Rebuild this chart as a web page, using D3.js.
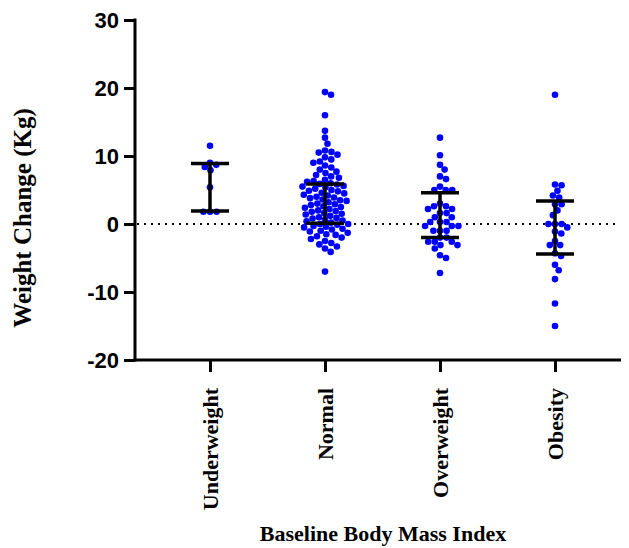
<!DOCTYPE html>
<html>
<head>
<meta charset="utf-8">
<script src="https://cdn.jsdelivr.net/npm/d3@7"></script>
<style>
  body { margin: 0; background: #fff; }
  svg { display: block; }
</style>
</head>
<body>
<svg id="chart" width="629" height="548"></svg>
<script>
// categories + y ticks
var groups = ['Underweight', 'Normal', 'Overweight', 'Obesity'];
var yTicks = [-20, -10, 0, 10, 20, 30];

// weight change (kg)
var underweight = [11.5, 9.0, 8.7, 8.4, 7.9, 5.4, 1.8, 1.8, 1.8];
var normal = [19.4, 19.0, 16.0, 13.7, 12.7, 11.8, 10.8, 10.6, 10.5, 10.2,
  9.8, 9.5, 9.2, 9.0, 8.6, 8.3, 8.0, 7.7, 7.5, 7.2, 7.0, 6.8,
  6.5, 6.3, 6.2, 6.0, 5.9, 5.8, 5.6, 5.5, 5.4, 5.2, 5.0, 4.9, 4.8, 4.6,
  4.5, 4.3, 4.2, 4.0, 3.9, 3.8, 3.6, 3.5, 3.4, 3.2, 3.0, 2.9, 2.8, 2.6,
  2.5, 2.4, 2.2, 2.0, 1.9, 1.8, 1.6, 1.5, 1.4, 1.2, 1.0, 0.9, 0.8, 0.6,
  0.5, 0.4, 0.2, 0.0, 0.0, -0.1, -0.3, -0.4, -0.5, -0.7, -0.8, -1.0,
  -1.1, -1.3, -1.5, -1.6, -1.8, -2.0, -2.2, -2.5, -2.8, -3.0, -3.3,
  -3.6, -4.1, -7.0];
var overweight = [12.7, 10.1, 8.7, 8.0, 7.0, 6.6, 5.5, 5.0, 5.0, 5.0, 3.0,
  2.6, 2.6, 2.2, 2.2, 1.6, 1.6, 1.0, 1.0, 0.3, 0.3, 0.3, -0.3, -0.3, -0.3,
  -1.0, -1.0, -1.0, -2.0, -2.0, -2.6, -2.6, -2.6, -3.1, -3.1, -3.6, -4.6,
  -5.0, -7.2];
var obesity = [19.0, 5.8, 5.7, 4.9, 4.2, 3.9, 2.9, 2.9, 2.0, 1.3, 0.0, 0.0,
  0.0, -0.5, -1.1, -1.4, -2.5, -3.1, -3.1, -4.3, -4.7, -6.0, -6.8, -8.1,
  -11.7, -15.0];

// error bars (upper / lower)
var barHigh = [8.9, 5.9, 4.6, 3.4];
var barLow = [1.9, 0.1, -2.0, -4.4];

var series = [underweight, normal, overweight, obesity];

var svg = d3.select('#chart');

var x = d3.scalePoint().domain(groups).range([210, 555]);
var y = d3.scaleLinear().domain([-20, 30]).range([360, 20]);

var R = 3.3;

// simple beeswarm: put each dot as close to the centre as it can go
function swarm(vals){
	var placed = [];
	var sorted = vals.slice().sort(function(a, b){ return b - a; });
	sorted.forEach(function(v){
		var py = y(v);
		var cands = [0];
		placed.forEach(function(p){
			var dy = Math.abs(p.y - py);
			if (dy < 2*R){
				var dx = Math.sqrt(4*R*R - dy*dy);
				cands.push(p.x + dx, p.x - dx);
			}
		});
		cands.sort(function(a, b){ return Math.abs(a) - Math.abs(b); });
		for (var i=0; i<cands.length; i++){
			var c = cands[i];
			var ok = placed.every(function(p){
				var ddx = p.x - c, ddy = p.y - py;
				return ddx*ddx + ddy*ddy >= 4*R*R - 0.01;
			});
			if (ok){ placed.push({x: c, y: py}); break; }
		}
	});
	return placed;
}

// zero line
svg.append('line')
	.attr('x1', 137).attr('x2', 620)
	.attr('y1', y(0)).attr('y2', y(0))
	.attr('stroke', '#000').attr('stroke-width', 2)
	.attr('stroke-dasharray', '2,5');

// dots
series.forEach(function(vals, gi){
	var pts = swarm(vals);
	svg.append('g').selectAll('circle').data(pts).enter().append('circle')
		.attr('cx', function(d){ return x(groups[gi]) + d.x; })
		.attr('cy', function(d){ return d.y; })
		.attr('r', R)
		.attr('fill', '#0000ff');
});

// error bars
var bars = svg.append('g').attr('stroke', '#000').attr('stroke-width', 3.5);
groups.forEach(function(g, i){
	var cx = x(g);
	bars.append('line').attr('x1', cx).attr('x2', cx)
		.attr('y1', y(barHigh[i])).attr('y2', y(barLow[i]));
	bars.append('line').attr('x1', cx - 19).attr('x2', cx + 19)
		.attr('y1', y(barHigh[i])).attr('y2', y(barHigh[i]));
	bars.append('line').attr('x1', cx - 19).attr('x2', cx + 19)
		.attr('y1', y(barLow[i])).attr('y2', y(barLow[i]));
});

// y axis
var yAxis = svg.append('g').attr('transform', 'translate(135,0)')
	.call(d3.axisLeft(y).tickValues(yTicks).tickFormat(function(d){ return String(d); })
		.tickSize(11).tickPadding(5).tickSizeOuter(0));
yAxis.select('.domain').remove();
yAxis.selectAll('.tick line').attr('stroke-width', 3);
yAxis.selectAll('.tick text')
	.style('font-family', 'Liberation Sans, Arial, sans-serif')
	.style('font-weight', 'bold').style('font-size', '22px').attr('fill', '#000');
svg.append('line').attr('x1', 135).attr('x2', 135).attr('y1', 18.5).attr('y2', 361.5)
	.attr('stroke', '#000').attr('stroke-width', 3);

// x axis
var xAxis = svg.append('g').attr('transform', 'translate(0,360)')
	.call(d3.axisBottom(x).tickSize(12).tickSizeOuter(0));
xAxis.select('.domain').remove();
xAxis.selectAll('.tick line').attr('stroke-width', 3);
xAxis.selectAll('.tick text')
	.attr('transform', 'rotate(-90)')
	.attr('x', -28).attr('y', 0).attr('dy', '0.35em')
	.style('text-anchor', 'end')
	.style('font-family', 'Liberation Serif, Times New Roman, serif')
	.style('font-weight', 'bold').style('font-size', '22px').attr('fill', '#000');
svg.append('line').attr('x1', 133.5).attr('x2', 621).attr('y1', 360).attr('y2', 360)
	.attr('stroke', '#000').attr('stroke-width', 3);

// titles
svg.append('text')
	.attr('x', 383).attr('y', 541)
	.attr('text-anchor', 'middle')
	.style('font-family', 'Liberation Serif, Times New Roman, serif')
	.style('font-weight', 'bold').style('font-size', '22px')
	.text('Baseline Body Mass Index');

svg.append('text')
	.attr('transform', 'translate(31,218) rotate(-90)')
	.attr('text-anchor', 'middle')
	.style('font-family', 'Liberation Serif, Times New Roman, serif')
	.style('font-weight', 'bold').style('font-size', '25px')
	.text('Weight Change (Kg)');
</script>
</body>
</html>
